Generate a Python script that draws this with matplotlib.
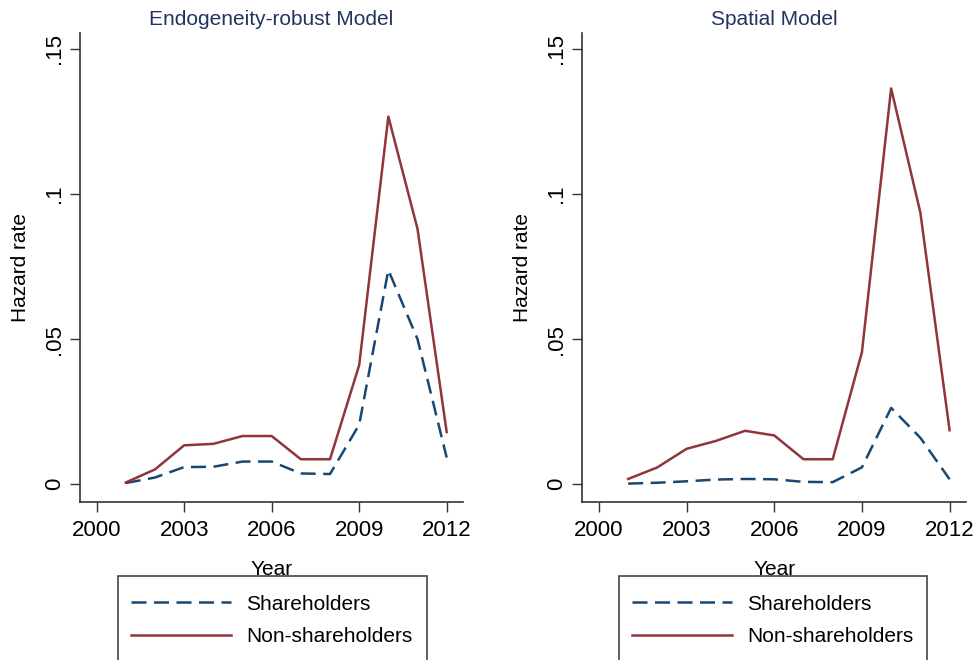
import numpy as np
import matplotlib.pyplot as plt
from matplotlib.patches import Rectangle

plt.rcParams['font.family'] = ['Liberation Sans', 'DejaVu Sans']

years = [2001, 2002, 2003, 2004, 2005, 2006, 2007, 2008, 2009, 2010, 2011, 2012]

# Endogeneity-robust model
endo_share = [0.0004, 0.0023, 0.0059, 0.0060, 0.0078, 0.0078, 0.0037, 0.0035, 0.0205, 0.0738, 0.0500, 0.0092]
endo_non = [0.0006, 0.0051, 0.0134, 0.0139, 0.0166, 0.0166, 0.0086, 0.0086, 0.0410, 0.1267, 0.0880, 0.0180]

# Spatial model
spat_share = [0.0002, 0.0005, 0.0010, 0.0016, 0.0018, 0.0017, 0.0008, 0.0007, 0.0058, 0.0263, 0.0160, 0.0017]
spat_non = [0.0018, 0.0058, 0.0122, 0.0149, 0.0184, 0.0168, 0.0086, 0.0086, 0.0455, 0.1364, 0.0936, 0.0186]

titles = ['Endogeneity-robust Model', 'Spatial Model']
xticks = [2000, 2003, 2006, 2009, 2012]
yticks = [0, 0.05, 0.1, 0.15]
ylabels = ['0', '.05', '.1', '.15']

blue = '#1a476f'
red = '#90353b'
axcol = '#333333'

fig = plt.figure(figsize=(9.76, 6.6), dpi=100)
ax1 = fig.add_axes([0.082, 0.240, 0.3924, 0.710])
ax2 = fig.add_axes([0.5966, 0.240, 0.3931, 0.710])

panels = [(ax1, endo_share, endo_non), (ax2, spat_share, spat_non)]
for i, (ax, sh, non) in enumerate(panels):
    l1, = ax.plot(years, sh, color=blue, lw=1.8, linestyle=(0, (6, 3)), label='Shareholders')
    l2, = ax.plot(years, non, color=red, lw=1.8, label='Non-shareholders')
    ax.set_xlim(1999.43, 2012.56)
    ax.set_ylim(-0.006, 0.1555)
    ax.set_xticks(xticks)
    ax.set_yticks(yticks)
    ax.set_yticklabels(ylabels, rotation=90, va='center')
    ax.tick_params(colors='black', labelsize=16, length=7, width=1, direction='out')
    ax.tick_params(axis='x', color=axcol, pad=6)
    ax.tick_params(axis='y', color=axcol, pad=4)
    for s in ['top', 'right']:
        ax.spines[s].set_visible(False)
    for s in ['left', 'bottom']:
        ax.spines[s].set_color(axcol)
        ax.spines[s].set_linewidth(1.2)
    ax.set_xlabel('Year', fontsize=15, labelpad=14)
    ax.set_ylabel('Hazard rate', fontsize=15, labelpad=10)
    ax.set_title(titles[i], fontsize=15, color='#22345f', pad=6)

    # legend frame running off the bottom, as in the source
    bx0 = (118 if i == 0 else 619) / 976
    bx1 = (427 if i == 0 else 927) / 976
    fig.patches.append(Rectangle((bx0, -0.05), bx1 - bx0, 0.05 + (660 - 575.7) / 660,
                                 transform=fig.transFigure, fill=False,
                                 edgecolor='#444444', lw=1.2, clip_on=False))
    fig.legend(handles=[l1, l2], loc='upper left',
               bbox_to_anchor=(bx0 - 6 / 976, 1 - 576 / 660), frameon=False,
               fontsize=15, handlelength=4.8, handletextpad=0.75, labelspacing=0.65)

fig.savefig('out.png', dpi=100)
